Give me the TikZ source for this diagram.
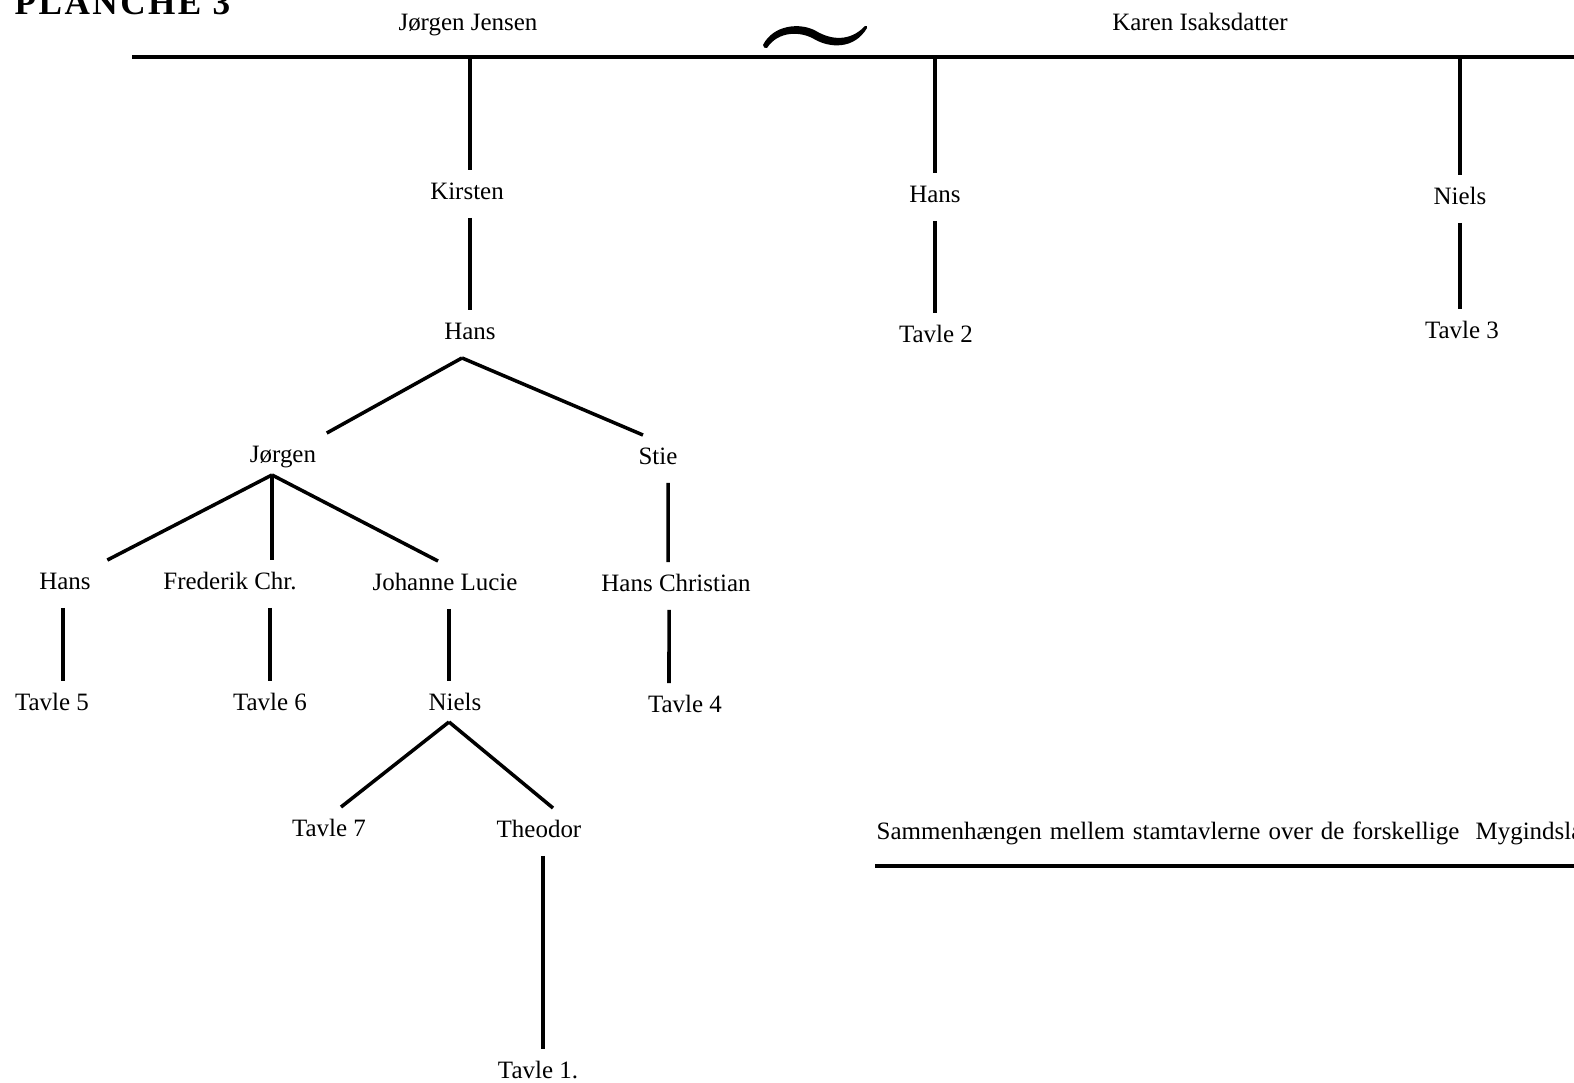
\documentclass[tikz,border=0pt]{standalone}
\usepackage{fontspec}
\setmainfont{Liberation Serif}
\usepackage{tikz}
\usetikzlibrary{calc}
\tikzset{
  sname/.style={inner xsep=0.05cm, inner ysep=0.12cm, text height=0.17cm,
                text depth=0.055cm, font=\fontsize{7.1}{8.5}\selectfont},
  sline/.style={black, line width=1pt},
  srule/.style={black, line width=1.2pt},
}
\begin{document}
\begin{tikzpicture}[x=0.01cm,y=-0.01cm]
  \useasboundingbox (0,0) rectangle (1574,1083);

  % overskrift
  \node[anchor=base west, inner sep=0pt, font={\fontsize{10}{12}\selectfont\bfseries\addfontfeatures{LetterSpace=7}}]
        (planche) at (14,15) {PLANCHE 3};

  % stamparret
  \node[sname] (jj) at (468,25)  {Jørgen Jensen};
  \node[sname] (ki) at (1200,25) {Karen Isaksdatter};
  \fill (763,45) .. controls (773,25) and (800,22) .. (816,31)
        .. controls (831,40) and (850,42) .. (865,26)
        .. controls (867,26) .. (867,28)
        .. controls (854,50) and (829,48) .. (814,39)
        .. controls (800,31) and (778,31) .. (767,48)
        .. controls (764,48) .. cycle;
  \coordinate (barw) at (132,57);
  \coordinate (bare) at (1600,57);
  \draw[srule] (barw) -- (bare);

  % børn
  \node[sname] (kirsten) at (467,194)  {Kirsten};
  \node[sname] (hansb)   at (935,197)  {Hans};
  \node[sname] (nielsa)  at (1460,199) {Niels};
  \node[sname] (tavle2)  at (936,337)  {Tavle 2};
  \node[sname] (tavle3)  at (1462,333) {Tavle 3};
  \node[sname] (hansa)   at (470,334)  {Hans};

  \draw[sline] ([xshift=0.03cm]kirsten.north |- barw) -- ([xshift=0.03cm]kirsten.north);
  \draw[sline] (hansb.north |- barw) -- (hansb.north);
  \draw[sline, line width=1.4pt] (nielsa.north |- barw) -- (nielsa.north);
  \draw[sline] ([xshift=0.03cm]kirsten.south) -- ([xshift=0.03cm]kirsten.south |- hansa.north);
  \draw[sline] (hansb.south) -- (hansb.south |- tavle2.north);
  \draw[sline] (nielsa.south) -- (nielsa.south |- tavle3.north);

  % Hans' linje
  \node[sname] (jorgen)  at (283,457) {Jørgen};
  \node[sname] (stie)    at (658,459) {Stie};
  \coordinate (hansfork) at ([xshift=-0.08cm]hansa.south);
  \draw[sline] (hansfork) -- ([xshift=0.05cm]jorgen.north east);
  \draw[sline] (hansfork) -- ([xshift=-0.15cm]stie.north);

  \node[sname] (hansc)    at (65,584)  {Hans};
  \node[sname] (frederik) at (230,584) {Frederik Chr.};
  \node[sname] (johanne)  at (445,585) {Johanne Lucie};
  \node[sname] (hanschr)  at (676,586) {Hans Christian};
  \coordinate (jorgenfork) at ([xshift=-0.11cm,yshift=0.06cm]jorgen.south);
  \draw[sline] (jorgenfork) -- ([xshift=0.11cm]hansc.north east);
  \draw[sline] (jorgenfork) -- (jorgenfork |- frederik.north);
  \draw[sline] (jorgenfork) -- ([xshift=-0.07cm]johanne.north);
  \draw[sline] ([xshift=0.1cm]stie.south) -- ([xshift=-0.08cm]hanschr.north);

  \node[sname] (tavle5) at (52,705)  {Tavle 5};
  \node[sname] (tavle6) at (270,705) {Tavle 6};
  \node[sname] (nielsb) at (455,705) {Niels};
  \node[sname] (tavle4) at (685,707) {Tavle 4};
  \draw[sline] ([xshift=-0.02cm]hansc.south) -- ([xshift=-0.02cm]hansc.south |- tavle5.north);
  \draw[sline] (tavle6.north |- frederik.south) -- (tavle6.north);
  \draw[sline] ([xshift=0.04cm]johanne.south) -- ([xshift=0.04cm]johanne.south |- nielsb.north);
  \draw[sline] ([xshift=-0.07cm]hanschr.south) -- ([xshift=-0.16cm]tavle4.north);

  \node[sname] (tavle7)  at (329,831) {Tavle 7};
  \node[sname] (theodor) at (539,832) {Theodor};
  \node[sname] (tavle1)  at (538,1073) {Tavle 1.};
  \coordinate (nielsfork) at ([xshift=-0.06cm,yshift=0.07cm]nielsb.south);
  \draw[sline] (nielsfork) -- ([xshift=0.12cm]tavle7.north);
  \draw[sline] (nielsfork) -- ([xshift=0.14cm]theodor.north);
  \draw[sline] ([xshift=0.04cm]theodor.south) -- ([xshift=0.04cm]theodor.south |- tavle1.north);

  % undertekst
  \node[sname, anchor=base west, inner xsep=0pt] (caption) at (876,839)
        {\spaceskip=2.3pt\relax Sammenhængen mellem stamtavlerne over de forskellige\ \ Mygindsla};
  \coordinate (rulew) at (875,866);
  \coordinate (rulee) at (1600,866);
  \draw[srule, line width=1.4pt] (rulew) -- (rulee);

\end{tikzpicture}
\end{document}
